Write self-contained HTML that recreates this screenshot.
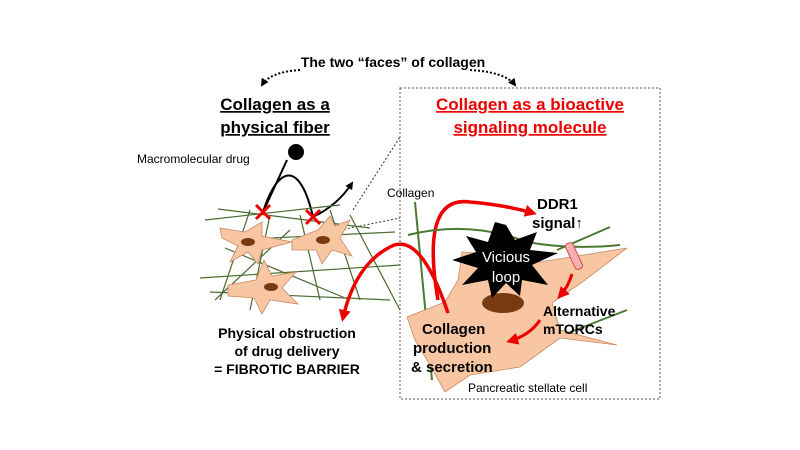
<!DOCTYPE html>
<html><head><meta charset="utf-8"><style>
html,body{margin:0;padding:0;background:#fff;}
svg{display:block;font-family:"Liberation Sans",Arial,sans-serif;}
</style></head><body>
<svg width="800" height="450" viewBox="0 0 800 450" xmlns="http://www.w3.org/2000/svg">
<defs>
<marker id="ab" markerWidth="8" markerHeight="8" refX="6" refY="4" orient="auto" markerUnits="userSpaceOnUse"><path d="M0,0 L8,4 L0,8 z" fill="#000"/></marker>
<marker id="ar" markerWidth="12" markerHeight="12" refX="8" refY="6" orient="auto" markerUnits="userSpaceOnUse"><path d="M0,0 L12,6 L0,12 z" fill="#e00"/></marker>
</defs>
<text x="393" y="67" font-size="14" font-weight="bold" text-anchor="middle">The two “faces” of collagen</text>
<path d="M300,70 Q270,72 262,85" fill="none" stroke="#000" stroke-width="2" stroke-dasharray="2,2" marker-end="url(#ab)"/>
<path d="M470,70 Q505,72 515,85" fill="none" stroke="#000" stroke-width="2" stroke-dasharray="2,2" marker-end="url(#ab)"/>
<text x="275" y="110" font-size="17" font-weight="bold" text-anchor="middle" text-decoration="underline">Collagen as a</text>
<text x="275" y="133" font-size="17" font-weight="bold" text-anchor="middle" text-decoration="underline">physical fiber</text>
<rect x="400" y="88" width="260" height="311" fill="none" stroke="#555" stroke-width="1" stroke-dasharray="2,2"/>
<text x="530" y="110" font-size="17" font-weight="bold" fill="#e00" text-anchor="middle" text-decoration="underline">Collagen as a bioactive</text>
<text x="530" y="133" font-size="17" font-weight="bold" fill="#e00" text-anchor="middle" text-decoration="underline">signaling molecule</text>
<line x1="353" y1="210" x2="400" y2="137" stroke="#333" stroke-dasharray="2,2"/>
<line x1="340" y1="230" x2="400" y2="218" stroke="#333" stroke-dasharray="2,2"/>
<text x="137" y="163" font-size="12">Macromolecular drug</text>
<circle cx="296" cy="152" r="8" fill="#000"/>
<path d="M287,160 L263,212" stroke="#000" stroke-width="2" fill="none"/>
<path d="M263,212 C278,165 300,160 313,217" stroke="#000" stroke-width="2" fill="none"/>
<path d="M313,217 Q338,205 352,183" stroke="#000" stroke-width="2" fill="none" marker-end="url(#ab)"/>
<g stroke="#4a6b30" stroke-width="1.2">
<line x1="218" y1="209" x2="370" y2="228"/><line x1="205" y1="220" x2="340" y2="205"/><line x1="200" y1="278" x2="400" y2="265"/>
<line x1="210" y1="292" x2="390" y2="300"/><line x1="225" y1="248" x2="350" y2="300"/><line x1="250" y1="210" x2="220" y2="300"/>
<line x1="330" y1="210" x2="360" y2="300"/><line x1="300" y1="215" x2="320" y2="300"/><line x1="215" y1="300" x2="290" y2="230"/>
<line x1="230" y1="240" x2="395" y2="232"/><line x1="270" y1="215" x2="250" y2="310"/><line x1="350" y1="215" x2="400" y2="310"/>
</g>
<g fill="#f8c6a3" stroke="#c98a60" stroke-width="0.8">
<path d="M220,228 L245,232 L262,222 L262,236 L292,242 L262,250 L258,264 L248,252 L230,262 L238,246 L222,238 z"/>
<path d="M292,240 L318,230 L330,216 L335,226 L350,220 L340,238 L352,256 L332,250 L322,264 L316,250 L292,250 z"/>
<path d="M228,285 L256,280 L264,260 L272,276 L296,272 L282,288 L298,304 L270,300 L262,314 L254,298 L228,296 z"/>
</g>
<g fill="#7a3a10"><ellipse cx="248" cy="242" rx="7" ry="4"/><ellipse cx="323" cy="240" rx="7" ry="4"/><ellipse cx="271" cy="287" rx="7" ry="4"/></g>
<g stroke="#e00" stroke-width="3"><line x1="256" y1="205" x2="270" y2="219"/><line x1="270" y1="205" x2="256" y2="219"/><line x1="306" y1="210" x2="320" y2="224"/><line x1="320" y1="210" x2="306" y2="224"/></g>
<path d="M438,300 Q420,195 470,202 Q505,205 533,213" fill="none" stroke="#e00" stroke-width="3.5" marker-end="url(#ar)"/>
<g stroke="#4a7a30" stroke-width="2" fill="none">
<path d="M415,202 L432,380"/><path d="M408,235 Q470,220 527,242 Q570,250 620,245"/><path d="M557,250 L610,227"/><path d="M550,340 L627,310"/>
</g>
<path d="M407,317 L445,302 L458,280 L462,252 L500,255 L540,262 L627,248 L585,280 L552,303 L560,330 L617,345 L560,338 L520,367 L470,375 L445,392 L430,365 L415,340 z" fill="#f8c6a3" stroke="#c98a60" stroke-width="0.8"/>
<ellipse cx="503" cy="303" rx="21" ry="10" fill="#7a3a10"/>
<polygon points="506,225 515,240 537,232 530,250 558,253 532,265 548,285 522,280 520,296 506,283 492,298 488,280 462,285 478,268 452,260 476,252 466,236 488,242 495,222" fill="#000"/>
<text x="506" y="262" font-size="15" fill="#fff" text-anchor="middle">Vicious</text>
<text x="506" y="282" font-size="15" fill="#fff" text-anchor="middle">loop</text>
<rect x="570" y="242" width="8" height="28" rx="3" fill="#f6b0b0" stroke="#d44" transform="rotate(-25 574 256)"/>
<path d="M448,313 Q420,230 390,247 Q355,265 343,318" fill="none" stroke="#e00" stroke-width="3.5" marker-end="url(#ar)"/>
<path d="M572,274 Q568,287 560,296" fill="none" stroke="#e00" stroke-width="3" marker-end="url(#ar)"/>
<path d="M540,320 Q530,335 510,341" fill="none" stroke="#e00" stroke-width="3" marker-end="url(#ar)"/>
<text x="387" y="197" font-size="12">Collagen</text>
<text x="537" y="209" font-size="15" font-weight="bold">DDR1</text>
<text x="532" y="228" font-size="15" font-weight="bold">signal↑</text>
<text x="543" y="316" font-size="14" font-weight="bold">Alternative</text>
<text x="543" y="334" font-size="14" font-weight="bold">mTORCs</text>
<text x="422" y="334" font-size="15" font-weight="bold">Collagen</text>
<text x="413" y="353" font-size="15" font-weight="bold">production</text>
<text x="411" y="372" font-size="15" font-weight="bold">&amp; secretion</text>
<text x="468" y="392" font-size="12">Pancreatic stellate cell</text>
<text x="287" y="338" font-size="14" font-weight="bold" text-anchor="middle">Physical obstruction</text>
<text x="287" y="356" font-size="14" font-weight="bold" text-anchor="middle">of drug delivery</text>
<text x="287" y="374" font-size="14" font-weight="bold" text-anchor="middle">= FIBROTIC BARRIER</text>
</svg>
</body></html>
